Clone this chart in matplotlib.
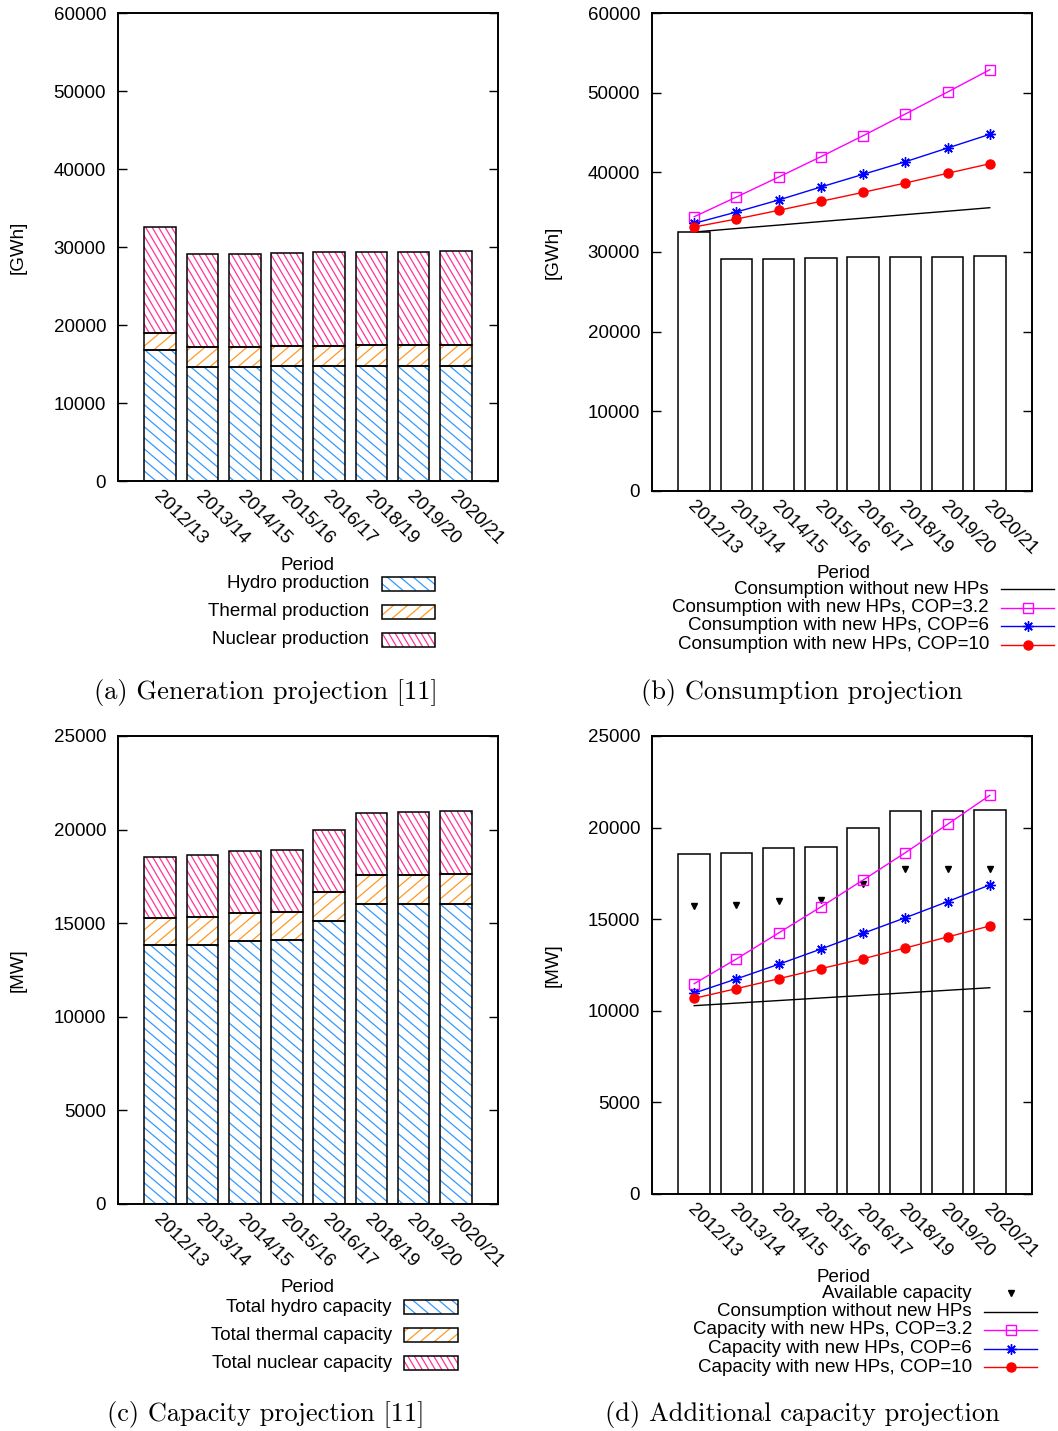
import matplotlib
matplotlib.use('Agg')
import matplotlib.pyplot as plt
import numpy as np
from matplotlib.collections import LineCollection
from matplotlib.lines import Line2D
from matplotlib.patches import Rectangle
from matplotlib.transforms import IdentityTransform, ScaledTranslation

# --- data -------------------------------------------------------------
periods = ['2012/13', '2013/14', '2014/15', '2015/16',
           '2016/17', '2018/19', '2019/20', '2020/21']

# generation projection [GWh]
hydro_gen = [16830, 14650, 14650, 14740, 14740, 14740, 14740, 14740]
thermal_gen = [2100, 2530, 2530, 2520, 2610, 2650, 2700, 2740]
nuclear_gen = [13590, 11880, 11960, 11970, 11970, 11920, 11920, 11970]

# consumption projection [GWh]
cons_no_hp = [32510, 32950, 33380, 33820, 34250, 34690, 35120, 35560]
cons_cop32 = [34430, 36900, 39410, 41960, 44600, 47320, 50080, 52880]
cons_cop6 = [33600, 35020, 36530, 38160, 39750, 41330, 43050, 44770]
cons_cop10 = [33140, 34140, 35230, 36360, 37490, 38660, 39880, 41080]

# capacity projection [MW]
hydro_cap = [13820, 13840, 14070, 14090, 15100, 16010, 16010, 16010]
thermal_cap = [1460, 1470, 1470, 1530, 1570, 1560, 1580, 1620]
nuclear_cap = [3270, 3320, 3320, 3310, 3290, 3330, 3330, 3350]

# additional capacity [MW]
avail_cap = [15720, 15770, 15980, 16030, 16940, 17720, 17760, 17760]
load_no_hp = [10280, 10420, 10560, 10700, 10840, 10980, 11120, 11260]
cap_cop32 = [11480, 12830, 14250, 15670, 17140, 18630, 20180, 21760]
cap_cop6 = [10970, 11740, 12540, 13370, 14230, 15080, 15960, 16870]
cap_cop10 = [10680, 11210, 11750, 12300, 12840, 13430, 14030, 14630]

# --- setup ------------------------------------------------------------
W, H = 1058, 1431
plt.rcParams['font.family'] = ['Liberation Sans', 'DejaVu Sans']
plt.rcParams['font.size'] = 13.5

fig = plt.figure(figsize=(W / 100, H / 100), dpi=100)
ID = IdentityTransform()
x = np.arange(len(periods))
width = 0.75

HYDRO = ('#3399ff', -0.85, 13)
THERMAL = ('#ff9922', 0.85, 14)
NUCLEAR = ('#ff3399', -1.7, 6.5)


def axes_at(left, top, right, bottom):
    return fig.add_axes([left / W, 1 - bottom / H, (right - left) / W, (bottom - top) / H])


def hatch(patch, style, parent):
    # gnuplot-like fill pattern: slanted lines clipped to the patch
    color, slope, step = style
    bb = patch.get_window_extent()
    run = bb.height / abs(slope)
    k0 = int(np.floor((bb.x0 - run) / step)) - 1
    k1 = int(np.ceil((bb.x1 + run) / step)) + 1
    segs = []
    for k in range(k0, k1 + 1):
        c = k * step
        end = c + run if slope > 0 else c - run
        segs.append([(c, bb.y0), (end, bb.y1)])
    lc = LineCollection(segs, colors=color, linewidths=0.9, transform=ID, zorder=1.5)
    if parent is fig:
        fig.add_artist(lc)
    else:
        parent.add_collection(lc, autolim=False)
    lc.set_clip_path(patch)


def style_axes(ax, ymax, ystep):
    ax.set_xlim(-1, 8)
    ax.set_ylim(0, ymax)
    ax.set_yticks(np.arange(0, ymax + 1, ystep))
    ax.set_xticks(x)
    ax.tick_params(axis='x', length=0, pad=9.5)
    ax.tick_params(axis='y', direction='in', length=6.5, width=1.0, right=True, pad=8.5)
    labels = ax.set_xticklabels(periods, rotation=-45, ha='left', va='center',
                                rotation_mode='anchor')
    # nudge the slanted period labels a little to the left
    shift = ScaledTranslation(-4 / 100, 0, fig.dpi_scale_trans)
    for lab in labels:
        lab.set_transform(lab.get_transform() + shift)
    for s in ax.spines.values():
        s.set_linewidth(1.4)


def stacked(ax, parts, styles):
    bottom = np.zeros(len(x))
    for vals, st in zip(parts, styles):
        vals = np.asarray(vals, float)
        bars = ax.bar(x, vals, width, bottom=bottom, color='white', edgecolor='none', zorder=1)
        for b in bars:
            hatch(b, st, ax)
        ax.bar(x, vals, width, bottom=bottom, fill=False, edgecolor='black',
               linewidth=1.1, zorder=2)
        bottom += vals
    return bottom


def series(ax, vals, kind):
    if kind == 'none':
        ax.plot(x, vals, color='black', lw=1.0, zorder=3)
    elif kind == 'cop32':
        ax.plot(x, vals, color='magenta', lw=1.0, marker='s', ms=6.5, mfc='none', mew=1.0, zorder=3)
    elif kind == 'cop6':
        ax.plot(x, vals, color='blue', lw=1.0, marker=(8, 2, 0), ms=7.5, mew=1.0, zorder=3)
    elif kind == 'cop10':
        ax.plot(x, vals, color='red', lw=1.0, marker='o', ms=6.5, zorder=3)


def ftext(xp, yp, s, **kw):
    fig.text(xp, H - yp, s, transform=ID, **kw)


def box_entry(label, xr, y, bx0, bx1, st):
    ftext(xr, y, label, ha='right', va='center')
    rect = Rectangle((bx0, H - y - 7), bx1 - bx0, 14, transform=ID,
                     facecolor='white', edgecolor='none', zorder=1)
    fig.add_artist(rect)
    hatch(rect, st, fig)
    fig.add_artist(Rectangle((bx0, H - y - 7), bx1 - bx0, 14, transform=ID,
                             fill=False, edgecolor='black', lw=1.1, zorder=2))


def line_entry(label, xr, y, lx0, lx1, kind):
    ftext(xr, y, label, ha='right', va='center')
    mid = (lx0 + lx1) / 2
    if kind == 'avail':
        fig.add_artist(Line2D([mid], [H - y], transform=ID, color='black',
                              marker='v', ms=5, ls='none'))
        return
    colors = {'none': 'black', 'cop32': 'magenta', 'cop6': 'blue', 'cop10': 'red'}
    c = colors[kind]
    fig.add_artist(Line2D([lx0, lx1], [H - y, H - y], transform=ID, color=c, lw=1.0))
    if kind == 'cop32':
        fig.add_artist(Line2D([mid], [H - y], transform=ID, color=c, marker='s',
                              ms=6.5, mfc='none', mew=1.0))
    elif kind == 'cop6':
        fig.add_artist(Line2D([mid], [H - y], transform=ID, color=c, marker=(8, 2, 0),
                              ms=7.5, mew=1.0))
    elif kind == 'cop10':
        fig.add_artist(Line2D([mid], [H - y], transform=ID, color=c, marker='o', ms=6.5))


# --- (a) generation ---------------------------------------------------
ax_a = axes_at(118, 13, 498, 481)
style_axes(ax_a, 60000, 10000)
gen_total = stacked(ax_a, [hydro_gen, thermal_gen, nuclear_gen], [HYDRO, THERMAL, NUCLEAR])
ftext(18, 247, '[GWh]', rotation=90, ha='center', va='center')
ftext(308, 565, 'Period', ha='center', va='center')
box_entry('Hydro production', 369, 583.5, 382, 435, HYDRO)
box_entry('Thermal production', 369, 611.5, 382, 435, THERMAL)
box_entry('Nuclear production', 369, 639.5, 382, 435, NUCLEAR)

# --- (b) consumption --------------------------------------------------
ax_b = axes_at(652, 13, 1032, 491)
style_axes(ax_b, 60000, 10000)
ax_b.bar(x, gen_total, width, color='white', edgecolor='black', linewidth=1.1, zorder=1)
series(ax_b, cons_no_hp, 'none')
series(ax_b, cons_cop32, 'cop32')
series(ax_b, cons_cop6, 'cop6')
series(ax_b, cons_cop10, 'cop10')
ftext(553, 252, '[GWh]', rotation=90, ha='center', va='center')
ftext(843, 574, 'Period', ha='center', va='center')
line_entry('Consumption without new HPs', 989, 589, 1001, 1054, 'none')
line_entry('Consumption with new HPs, COP=3.2', 989, 607.5, 1001, 1054, 'cop32')
line_entry('Consumption with new HPs, COP=6', 989, 626, 1001, 1054, 'cop6')
line_entry('Consumption with new HPs, COP=10', 989, 644.5, 1001, 1054, 'cop10')

# --- (c) capacity -----------------------------------------------------
ax_c = axes_at(118, 736, 498, 1204)
style_axes(ax_c, 25000, 5000)
cap_total = stacked(ax_c, [hydro_cap, thermal_cap, nuclear_cap], [HYDRO, THERMAL, NUCLEAR])
ftext(18, 970, '[MW]', rotation=90, ha='center', va='center')
ftext(308, 1287, 'Period', ha='center', va='center')
box_entry('Total hydro capacity', 392, 1307, 404, 458, HYDRO)
box_entry('Total thermal capacity', 392, 1335, 404, 458, THERMAL)
box_entry('Total nuclear capacity', 392, 1363, 404, 458, NUCLEAR)

# --- (d) additional capacity ------------------------------------------
ax_d = axes_at(652, 736, 1032, 1194)
style_axes(ax_d, 25000, 5000)
ax_d.bar(x, cap_total, width, color='white', edgecolor='black', linewidth=1.1, zorder=1)
ax_d.plot(x, avail_cap, color='black', marker='v', ms=5, ls='none', zorder=2)
series(ax_d, load_no_hp, 'none')
series(ax_d, cap_cop32, 'cop32')
series(ax_d, cap_cop6, 'cop6')
series(ax_d, cap_cop10, 'cop10')
ftext(553, 965, '[MW]', rotation=90, ha='center', va='center')
ftext(843, 1277, 'Period', ha='center', va='center')
line_entry('Available capacity', 972, 1293, 984, 1037, 'avail')
line_entry('Consumption without new HPs', 972, 1311.5, 984, 1037, 'none')
line_entry('Capacity with new HPs, COP=3.2', 972, 1330, 984, 1037, 'cop32')
line_entry('Capacity with new HPs, COP=6', 972, 1348.5, 984, 1037, 'cop6')
line_entry('Capacity with new HPs, COP=10', 972, 1367, 984, 1037, 'cop10')

# --- captions ---------------------------------------------------------
cap_kw = dict(ha='center', va='center', family='cmr10', fontsize=19)
ftext(266, 693, '(a) Generation projection [11]', **cap_kw)
ftext(802, 693, '(b) Consumption projection', **cap_kw)
ftext(266, 1415, '(c) Capacity projection [11]', **cap_kw)
ftext(802, 1415, '(d) Additional capacity projection', **cap_kw)

fig.savefig('out.png', dpi=100)
